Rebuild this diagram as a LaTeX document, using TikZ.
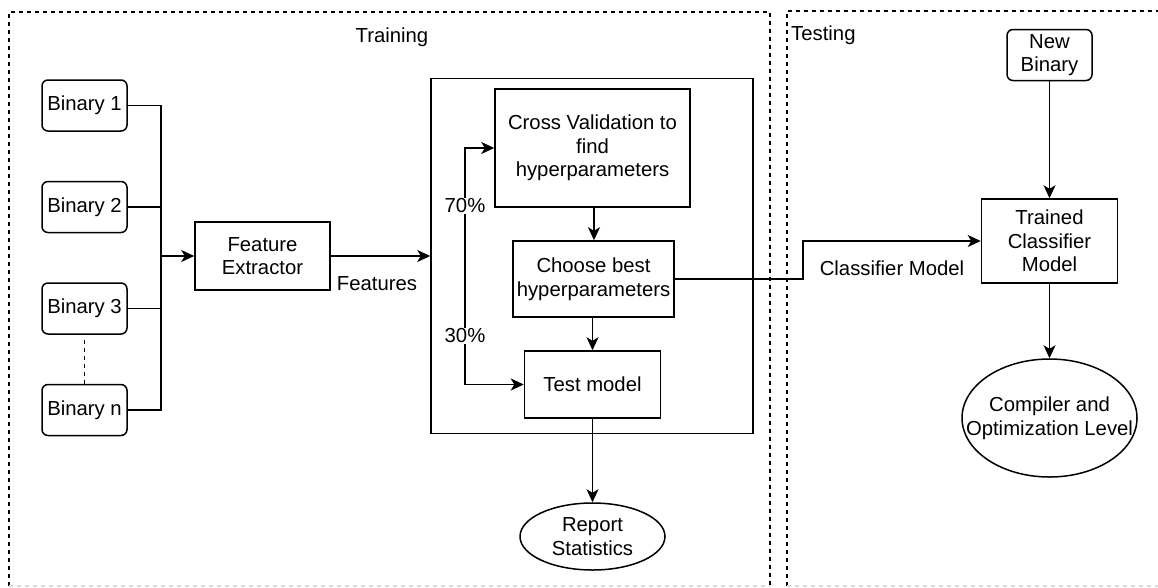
\documentclass[tikz,border=0pt]{standalone}
\usepackage{fontspec}
\setmainfont{Liberation Sans}
\usetikzlibrary{shapes.geometric,arrows.meta}
\begin{document}
\begin{tikzpicture}[x=1pt,y=-1pt,
  every node/.style={font=\fontsize{20.3}{23.7}\selectfont, inner sep=0pt, align=center},
  ln/.style={line width=1.5pt},
  arr/.style={ln, -{Stealth[length=13pt,width=12pt,inset=3.5pt]}},
  rbox/.style={draw, line width=1.5pt, rounded corners=6pt, minimum width=85pt, minimum height=51pt},
  sbox/.style={draw, line width=1.5pt},
  oval/.style={draw, line width=1.5pt, ellipse},
  region/.style={line width=1.5pt, dash pattern=on 4pt off 4pt},
  lbl/.style={fill=white, inner sep=1pt}
]
\useasboundingbox (0,0) rectangle (1158,587);
\clip (0,0) rectangle (1158,587);

% regions
\draw[region] (9,586) -- (9,12) -- (770,12) -- (770,586);
\draw[region] (787,586) -- (787,11) -- (1170,11);
\draw[region, gray!30] (9,586) -- (770,586);
\draw[region, gray!30] (787,586) -- (1158,586);
\node (trainlbl) at (392,37) {Training};
\node[anchor=west] (testlbl) at (791,35) {Testing};

% binaries
\node[rbox] (b1) at (84.5,105.5) {Binary 1};
\node[rbox] (b2) at (84.5,207) {Binary 2};
\node[rbox] (b3) at (84.5,308.5) {Binary 3};
\node[rbox] (bn) at (84.5,410) {Binary n};
\draw[region] ([yshift=-5pt]b3.south) -- (bn.north);

\coordinate (bus1) at (161,105.5);
\coordinate (busn) at (161,410);
\draw[ln] (b1.east) -- (bus1) -- (busn) -- (bn.east);
\draw[ln] (b2.east) -- (b2.east -| bus1);
\draw[ln] (b3.east) -- (b3.east -| bus1);

\node[sbox, minimum width=135pt, minimum height=68pt] (fe) at (262.5,256) {Feature\\Extractor};
\draw[arr] (bus1 |- fe.west) -- (fe.west);

% big box
\node[sbox, minimum width=322pt, minimum height=355pt] (big) at (592,256) {};
\draw[arr] (fe.east) -- (big.west);
\node (featlbl) at (377,284) {Features};

\node[sbox, minimum width=195pt, minimum height=118pt] (cv) at (592.5,148) {Cross Validation to\\find\\hyperparameters};
\node[sbox, minimum width=161pt, minimum height=76pt] (cb) at (593.5,279) {Choose best\\hyperparameters};
\node[sbox, minimum width=136pt, minimum height=67pt] (tm) at (592.5,384.5) {Test model};

\coordinate (split) at (465,256);
\draw[arr] (split) |- (cv.west);
\draw[arr] (split) |- (tm.west);
\node[lbl] (p70) at (465,206) {70\%};
\node[lbl] (p30) at (465,336) {30\%};

\draw[arr] (cv.south -| 594,0) -- (cb.north -| 594,0);
\draw[arr] (cb.south -| tm.north) -- (tm.north);

\node[oval, minimum width=145pt, minimum height=67pt] (rs) at (592.5,536.5) {};
\node (rstext) at (rs.center) {Report\\Statistics};
\draw[arr] (tm.south) -- (rs.north);

% testing side
\node[rbox] (nb) at (1049.5,55) {New\\Binary};
\node[sbox, minimum width=136pt, minimum height=84pt] (tc) at (1049.5,241) {Trained\\Classifier\\Model};
\node[oval, minimum width=175pt, minimum height=118pt] (co) at (1049.5,418) {};
\node (cotext) at (co.center) {Compiler and\\Optimization Level};

\coordinate (bend) at (803,279);
\draw[arr] (cb.east) -- (bend) |- (tc.west);
\node (cmlbl) at (892,268) {Classifier Model};

\draw[arr] (nb.south) -- (tc.north);
\draw[arr] (tc.south) -- (co.north);
\end{tikzpicture}
\end{document}
